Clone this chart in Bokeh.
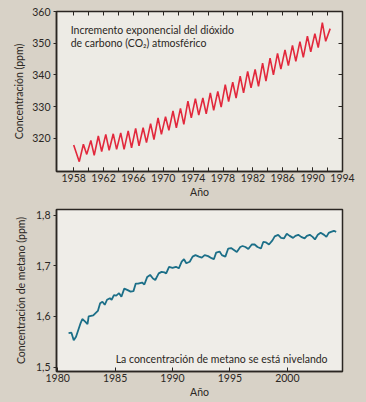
from bokeh.plotting import figure
from bokeh.models import FixedTicker, LinearAxis, Label, Range1d, CustomLabelingPolicy
from bokeh.layouts import column
from bokeh.embed import file_html
from bokeh.resources import INLINE

# ---------------- data ----------------
# CO2 (ppm): yearly seasonal maxima / minima
co2_start_year = 1958.0
co2_start_ppm = 317.9
co2_peak_years = list(range(1959, 1992))
co2_peak = [318.1, 319.3, 320.7, 321.2, 321.4, 321.7, 322.3, 323.1, 323.3, 324.6,
            326.4, 326.8, 328.6, 329.4, 331.7, 332.5, 332.7, 334.3, 334.8, 336.9,
            337.7, 339.6, 341.1, 341.7, 343.7, 345.3, 346.8, 347.9, 349.3, 350.5,
            352.2, 353.0, 356.5]
co2_trough_years = list(range(1958, 1992))
co2_trough = [312.6, 314.9, 314.6, 315.8, 316.2, 316.5, 316.5, 317.0, 317.6, 318.6,
              319.6, 321.2, 322.5, 323.3, 324.4, 326.4, 327.3, 327.7, 328.8, 329.8,
              331.6, 332.7, 334.3, 335.9, 336.4, 338.0, 340.0, 341.8, 342.9, 344.3,
              345.5, 347.3, 348.6, 350.6]
co2_end_year = 1992.35
co2_end_ppm = 354.6

# Methane (ppm)
ch4_year = [1980.95, 1981.2, 1981.4, 1981.6, 1982.0, 1982.15, 1982.4, 1982.6, 1982.7, 1983.1,
            1983.5, 1983.7, 1983.9, 1984.1, 1984.3, 1984.55, 1984.7, 1984.9, 1985.1, 1985.35,
            1985.55, 1985.8, 1986.1, 1986.35, 1986.6, 1986.8, 1987.0, 1987.35, 1987.55, 1987.8,
            1988.05, 1988.3, 1988.5, 1988.8, 1989.05, 1989.3, 1989.45, 1989.7, 1990.0, 1990.3,
            1990.55, 1990.8, 1991.0, 1991.2, 1991.5, 1991.75, 1992.0, 1992.3, 1992.55, 1992.8,
            1993.1, 1993.4, 1993.6, 1993.8, 1994.1, 1994.3, 1994.6, 1994.85, 1995.1, 1995.35,
            1995.6, 1995.9, 1996.1, 1996.35, 1996.6, 1996.9, 1997.15, 1997.4, 1997.7, 1997.9,
            1998.15, 1998.4, 1998.7, 1998.9, 1999.2, 1999.45, 1999.7, 1999.95, 2000.2, 2000.5,
            2000.7, 2000.95, 2001.2, 2001.5, 2001.7, 2001.95, 2002.2, 2002.4, 2002.65, 2002.9,
            2003.2, 2003.4, 2003.6, 2003.8, 2004.05, 2004.25]
ch4_ppm = [1.567, 1.568, 1.553, 1.560, 1.587, 1.595, 1.590, 1.585, 1.600, 1.602,
           1.611, 1.626, 1.629, 1.623, 1.633, 1.636, 1.633, 1.642, 1.641, 1.646,
           1.639, 1.655, 1.652, 1.649, 1.650, 1.665, 1.665, 1.667, 1.663, 1.678,
           1.682, 1.675, 1.672, 1.685, 1.688, 1.687, 1.685, 1.698, 1.696, 1.698,
           1.695, 1.708, 1.713, 1.705, 1.708, 1.718, 1.721, 1.718, 1.716, 1.721,
           1.719, 1.715, 1.713, 1.726, 1.728, 1.721, 1.718, 1.734, 1.735, 1.731,
           1.727, 1.737, 1.739, 1.737, 1.733, 1.742, 1.742, 1.737, 1.734, 1.747,
           1.746, 1.742, 1.750, 1.758, 1.761, 1.755, 1.754, 1.763, 1.759, 1.755,
           1.759, 1.761, 1.757, 1.754, 1.759, 1.761, 1.757, 1.752, 1.761, 1.765,
           1.761, 1.757, 1.765, 1.767, 1.769, 1.767]

co2_x_ticks = list(range(1958, 1995, 4))
co2_x_minor = list(range(1958, 1995, 2))
co2_y_ticks = [320, 330, 340, 350, 360]
ch4_x_ticks = [1980, 1985, 1990, 1995, 2000]
ch4_y_ticks = [1.5, 1.6, 1.7, 1.8]
ch4_y_labels = {1.5: "1,5", 1.6: "1,6", 1.7: "1,7", 1.8: "1,8"}

# build CO2 zigzag from the read peaks / troughs
co2_x = [co2_start_year]
co2_y = [co2_start_ppm]
for i, yr in enumerate(co2_trough_years):
    co2_x.append(yr + 0.75)
    co2_y.append(co2_trough[i])
    if i < len(co2_peak):
        co2_x.append(co2_peak_years[i] + 0.3)
        co2_y.append(co2_peak[i])
co2_x.append(co2_end_year)
co2_y.append(co2_end_ppm)

# ---------------- style ----------------
FONT = "Lato"
TXT = "#2b2723"
OUTER = "#d8d2c7"
INNER = "#edebe5"
INNER2 = "#efede8"
FRAME = "#2a2622"


def style(p):
    p.xgrid.visible = False
    p.ygrid.visible = False
    p.border_fill_color = OUTER
    p.outline_line_color = FRAME
    p.outline_line_width = 1.5
    p.outline_line_alpha = 1.0
    for ax in p.axis:
        ax.axis_line_color = FRAME
        ax.axis_line_width = 1.5
        ax.major_tick_line_color = FRAME
        ax.minor_tick_line_color = FRAME
        ax.major_label_text_font = FONT
        ax.major_label_text_font_size = "10.5px"
        ax.major_label_text_color = TXT
        ax.axis_label_text_font = FONT
        ax.axis_label_text_font_size = "10.5px"
        ax.axis_label_text_font_style = "normal"
        ax.axis_label_text_color = TXT


def blank_axis(ticks):
    ax = LinearAxis(ticker=FixedTicker(ticks=ticks))
    ax.major_label_policy = CustomLabelingPolicy(code="return []")
    ax.major_label_standoff = 0
    ax.axis_line_color = None
    ax.major_tick_in = 4
    ax.major_tick_out = 0
    ax.minor_tick_in = 0
    ax.minor_tick_out = 0
    ax.major_tick_line_color = FRAME
    return ax


# ---------------- CO2 chart ----------------
p1 = figure(width=366, height=200, x_range=Range1d(1955.7, 1994.0),
            y_range=Range1d(309.5, 360.0), output_backend="svg",
            toolbar_location=None, min_border_left=56, min_border_right=24,
            min_border_top=10, min_border_bottom=29)
p1.line(co2_x, co2_y, line_color="#e2283c", line_width=1.6)

p1.xaxis.ticker = FixedTicker(ticks=co2_x_ticks, minor_ticks=co2_x_minor)
p1.yaxis.ticker = FixedTicker(ticks=co2_y_ticks)
p1.xaxis.axis_label = "Año"
p1.yaxis.axis_label = "Concentración (ppm)"
style(p1)
p1.background_fill_color = INNER
p1.xaxis.major_tick_in = 4
p1.xaxis.major_tick_out = 0
p1.xaxis.minor_tick_in = 4
p1.xaxis.minor_tick_out = 0
p1.xaxis.major_label_standoff = 2
p1.xaxis.axis_label_standoff = 1
p1.yaxis.major_tick_in = 0
p1.yaxis.major_tick_out = 3
p1.yaxis.minor_tick_in = 0
p1.yaxis.minor_tick_out = 0
p1.yaxis.major_label_standoff = 3
p1.yaxis.axis_label_standoff = 4
p1.add_layout(blank_axis(co2_x_minor), "above")
p1.add_layout(blank_axis(co2_y_ticks[:-1]), "right")

for txt, yv in [("Incremento exponencial del dióxido", 354.3),
                ("de carbono (CO\u2082) atmosférico", 350.0)]:
    p1.add_layout(Label(x=1957.6, y=yv, text=txt, text_font=FONT,
                        text_font_size="10.5px", text_color=TXT,
                        text_baseline="middle", text_align="left"))

# ---------------- methane chart ----------------
p2 = figure(width=366, height=202, x_range=Range1d(1979.9, 2004.8),
            y_range=Range1d(1.4915, 1.811), output_backend="svg",
            toolbar_location=None, min_border_left=52, min_border_right=7,
            min_border_top=9, min_border_bottom=31)
p2.line(ch4_year, ch4_ppm, line_color="#1c6f88", line_width=1.8)
p2.xaxis.ticker = FixedTicker(ticks=ch4_x_ticks)
p2.yaxis.ticker = FixedTicker(ticks=ch4_y_ticks)
p2.yaxis.major_label_overrides = ch4_y_labels
p2.xaxis.axis_label = "Año"
p2.yaxis.axis_label = "Concentración de metano (ppm)"
style(p2)
p2.background_fill_color = INNER2
p2.xaxis.major_tick_in = 4
p2.xaxis.major_tick_out = 0
p2.xaxis.minor_tick_in = 0
p2.xaxis.minor_tick_out = 0
p2.xaxis.major_label_standoff = 2
p2.xaxis.axis_label_standoff = 1
p2.yaxis.major_tick_in = 0
p2.yaxis.major_tick_out = 3
p2.yaxis.minor_tick_in = 0
p2.yaxis.minor_tick_out = 0
p2.yaxis.major_label_standoff = 3
p2.yaxis.axis_label_standoff = 6

p2.add_layout(Label(x=2003.5, y=1.517, text="La concentración de metano se está nivelando",
                    text_font=FONT, text_font_size="10.5px", text_color=TXT,
                    text_baseline="middle", text_align="right"))

layout = column(p1, p2, spacing=0)
html = file_html(layout, INLINE)
html = html.replace("<head>", "<head><style>html, body { background: %s; }</style>" % OUTER, 1)
open("out.html", "w").write(html)
